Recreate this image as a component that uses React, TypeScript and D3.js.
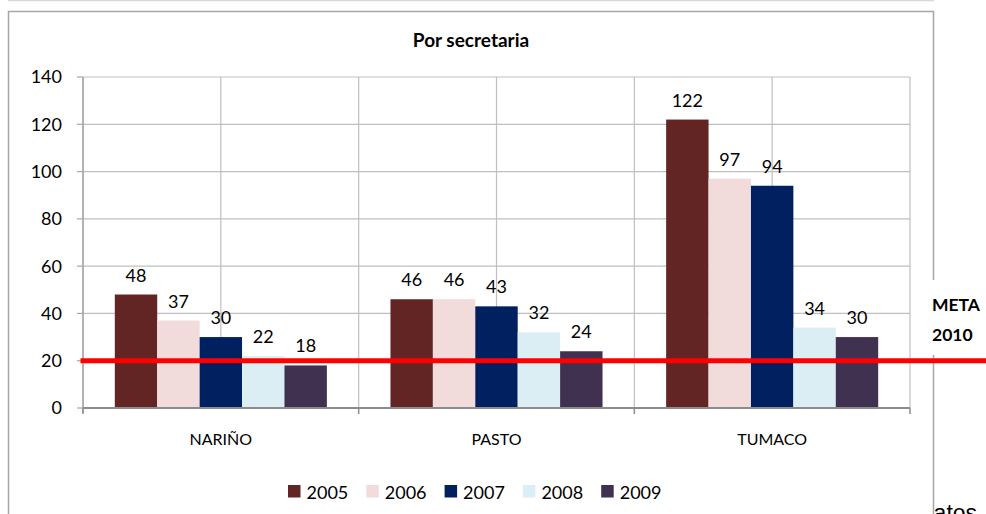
import React from 'react';
import * as d3 from 'd3';

const categories = ['NARIÑO', 'PASTO', 'TUMACO'];
const years = ['2005', '2006', '2007', '2008', '2009'];
const values2005 = [48, 46, 122];
const values2006 = [37, 46, 97];
const values2007 = [30, 43, 94];
const values2008 = [22, 32, 34];
const values2009 = [18, 24, 30];
const yTicks = [0, 20, 40, 60, 80, 100, 120, 140];
const colors = ['#632523', '#F2DCDB', '#002060', '#DAEEF3', '#403151'];
const metaValue = 20;

const series = [values2005, values2006, values2007, values2008, values2009];

const W = 986;
const H = 514;
const font = 'Lato, "Open Sans", sans-serif';

const App = () => {
    const plot = { left: 83, right: 910, top: 77, bottom: 408 };

    const x = d3.scaleBand().domain(categories).range([plot.left, plot.right]);
    const xInner = d3.scaleBand()
        .domain(years)
        .range([0, x.bandwidth()])
        .paddingInner(0)
        .paddingOuter(0.75);
    const y = d3.scaleLinear().domain([0, 140]).range([plot.bottom, plot.top]);
    const color = d3.scaleOrdinal<string, string>().domain(years).range(colors);

    // vertical gridlines at category edges and centres
    const vLines: number[] = [];
    categories.forEach(c => {
        vLines.push(x(c)!);
        vLines.push(x(c)! + x.bandwidth() / 2);
    });
    vLines.push(plot.right);

    const legendStart = 288;
    const legendStep = 78.3;

    return (
        <svg width={W} height={H} style={{ position: 'absolute', left: 0, top: 0 }} fontFamily={font}>
            <rect width={W} height={H} fill="#fff" />
            <line x1={8} x2={934} y1={0.5} y2={0.5} stroke="#d9d9d9" strokeWidth={1.5} />
            {/* text behind the chart box */}
            <text x={917} y={521} fontSize={23} fill="#000" fontFamily='"Liberation Sans", sans-serif'>Datos</text>

            <rect x={8.5} y={11.5} width={925} height={H + 20} fill="#fff" stroke="#a6a6a6" strokeWidth={1.5} />

            <text x={471} y={47} textAnchor="middle" fontSize={19} fontWeight="bold">Por secretaria</text>

            {yTicks.map(t => (
                <g key={t}>
                    <line x1={plot.left} x2={plot.right} y1={y(t)} y2={y(t)} stroke="#bfbfbf" strokeWidth={1.2} />
                    <line x1={77} x2={plot.left} y1={y(t)} y2={y(t)} stroke="#a6a6a6" strokeWidth={1.2} />
                    <text x={62} y={y(t)} dy="0.36em" textAnchor="end" fontSize={18}>{t}</text>
                </g>
            ))}
            {vLines.map((v, i) => (
                <line key={i} x1={v} x2={v} y1={plot.top} y2={plot.bottom} stroke="#bfbfbf" strokeWidth={1.2} />
            ))}

            {categories.map((c, ci) => (
                <g key={c} transform={`translate(${x(c)},0)`}>
                    {years.map((yr, si) => {
                        const v = series[si][ci];
                        return (
                            <g key={yr}>
                                <rect
                                    x={xInner(yr)}
                                    y={y(v)}
                                    width={xInner.bandwidth()}
                                    height={y(0) - y(v)}
                                    fill={color(yr)}
                                />
                                <text
                                    x={xInner(yr)! + xInner.bandwidth() / 2}
                                    y={y(v) - 13}
                                    textAnchor="middle"
                                    fontSize={18}
                                >{v}</text>
                            </g>
                        );
                    })}
                    <text x={x.bandwidth() / 2} y={445} textAnchor="middle" fontSize={16}>{c}</text>
                </g>
            ))}

            {/* axes */}
            <line x1={plot.left} x2={plot.left} y1={plot.top} y2={plot.bottom + 5} stroke="#a6a6a6" strokeWidth={1.5} />
            <line x1={plot.left} x2={plot.right} y1={plot.bottom} y2={plot.bottom} stroke="#8c8c8c" strokeWidth={2} />
            {[...categories.map(c => x(c)!), plot.right].map((v, i) => (
                <line key={i} x1={v} x2={v} y1={plot.bottom} y2={plot.bottom + 6} stroke="#8c8c8c" strokeWidth={1.5} />
            ))}

            {/* legend */}
            {years.map((yr, i) => (
                <g key={yr} transform={`translate(${legendStart + i * legendStep},485)`}>
                    <rect width={12.5} height={12.5} fill={color(yr)} />
                    <text x={18.5} y={14} fontSize={18}>{yr}</text>
                </g>
            ))}

            {/* META label box covering border */}
            <rect x={927} y={280} width={59} height={75} fill="#fff" />
            <text x={932} y={311} fontSize={17.5} fontWeight="bold">META</text>
            <text x={932} y={341} fontSize={17.5} fontWeight="bold">2010</text>

            {/* goal line */}
            <line x1={80.5} x2={W} y1={y(metaValue)} y2={y(metaValue)} stroke="#ff0000" strokeWidth={5} />
        </svg>
    );
};

export default App;
